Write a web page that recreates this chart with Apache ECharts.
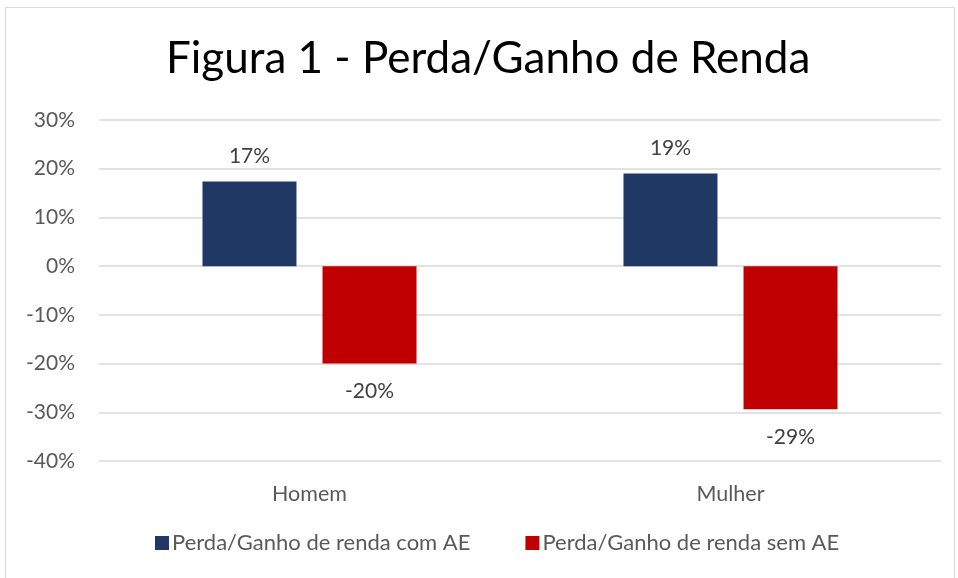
<!DOCTYPE html>
<html>
<head>
<meta charset="utf-8">
<script src="https://cdn.jsdelivr.net/npm/echarts@6/dist/echarts.min.js"></script>
<style>
html,body{margin:0;padding:0;background:#fff;}
#frame{position:absolute;left:5px;top:7px;width:950px;height:580px;border:1px solid #D9D9D9;box-sizing:border-box;}
#chart{position:absolute;left:0;top:0;width:958px;height:578px;}
</style>
</head>
<body>
<div id="frame"></div>
<div id="chart"></div>
<script>
const titleText = 'Figura 1 - Perda/Ganho de Renda';
const categories = ['Homem', 'Mulher'];
const seriesNames = ['Perda/Ganho de renda com AE', 'Perda/Ganho de renda sem AE'];
const comAE = [17.4, 19.0];
const semAE = [-20.0, -29.4];
const yMin = -40, yMax = 30, yStep = 10;

const FONT = 'Lato';
const chart = echarts.init(document.getElementById('chart'), null, {renderer: 'canvas'});
const labelCfg = {
  show: true,
  fontFamily: FONT, fontSize: 21, color: '#404040',
  distance: 16,
  formatter: p => Math.round(p.value) + '%'
};
function mkData(arr){
  return arr.map(v => ({value: v, label: {position: v >= 0 ? 'top' : 'bottom', distance: v >= 0 ? 15 : 17}}));
}
chart.setOption({
  animation: false,
  title: {
    text: titleText, left: 161, top: 32,
    textStyle: {fontFamily: FONT, fontSize: 44, fontWeight: 'normal', color: '#000'}
  },
  legend: {
    bottom: 19, left: 150, itemGap: 55, itemWidth: 14, itemHeight: 14,
    icon: 'rect',
    textStyle: {fontFamily: FONT, fontSize: 22, color: '#595959', padding: [0,0,0,-2]},
    data: seriesNames
  },
  grid: {left: 99, right: 17, top: 120, bottom: 117, containLabel: false},
  xAxis: {
    type: 'category', data: categories,
    axisLine: {show: false}, axisTick: {show: false},
    position: 'bottom',
    axisLabel: {fontFamily: FONT, fontSize: 21.5, color: '#595959', margin: 22}
  },
  yAxis: {
    type: 'value', min: yMin, max: yMax, interval: yStep,
    axisLine: {show: false}, axisTick: {show: false},
    axisLabel: {fontFamily: FONT, fontSize: 21, color: '#595959', margin: 24, formatter: '{value}%'},
    splitLine: {lineStyle: {color: '#D9D9D9', width: 1.5}}
  },
  series: [
    {name: seriesNames[0], type: 'bar', data: mkData(comAE), barWidth: 94, barGap: '27.7%',
     itemStyle: {color: '#1F3864'}, label: labelCfg},
    {name: seriesNames[1], type: 'bar', data: mkData(semAE), barWidth: 94,
     itemStyle: {color: '#C00000'}, label: labelCfg}
  ]
});
</script>
</body>
</html>
